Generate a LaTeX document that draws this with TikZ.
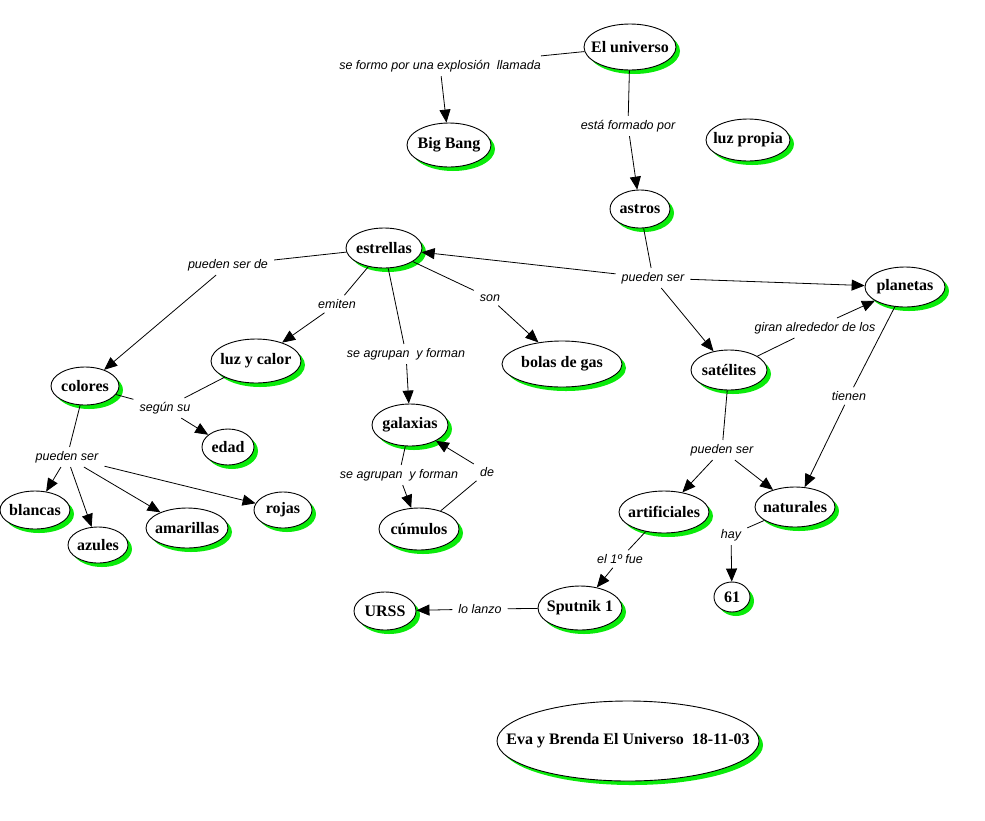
\documentclass[tikz,border=0pt]{standalone}
\usepackage{fontspec}
\setmainfont{Liberation Serif}
\newfontfamily\labfont{Liberation Sans}
\usetikzlibrary{shapes.geometric,arrows.meta,shadows}
\definecolor{shgreen}{RGB}{10,235,10}
\newcommand{\ct}[1]{\makebox[0pt]{#1}}
\tikzset{
 concept/.style={ellipse, draw=black, line width=0.9pt, fill=white, inner sep=0pt,
   font=\bfseries\fontsize{16}{18}\selectfont,
   general shadow={shadow xshift=4pt, shadow yshift=-4pt, fill=shgreen}},
 lab/.style={font=\labfont\itshape\fontsize{12.5}{14}\selectfont, inner xsep=6pt, inner ysep=4pt},
 link/.style={line width=0.8pt},
 arr/.style={line width=0.8pt, -{Triangle[length=13pt,width=11pt]}},
}
\begin{document}
\begin{tikzpicture}[x=1pt,y=-1pt]
\fill[white] (0,0) rectangle (985,820);
\useasboundingbox (0,0) rectangle (985,820);
% concepts
\node[concept, minimum width=92pt, minimum height=46pt] (univ) at (630,47) {\ct{El universo}};
\node[concept, minimum width=84pt, minimum height=44pt] (big) at (449,145) {\ct{Big Bang}};
\node[concept, minimum width=84pt, minimum height=42pt] (luzp) at (748,140) {\ct{luz propia}};
\node[concept, minimum width=60pt, minimum height=38pt] (astros) at (640,209) {\ct{astros}};
\node[concept, minimum width=76pt, minimum height=40pt] (estr) at (384,248) {\ct{estrellas}};
\node[concept, minimum width=80pt, minimum height=40pt] (plan) at (905,287) {\ct{planetas}};
\node[concept, minimum width=90pt, minimum height=44pt] (luzc) at (256,361) {\ct{luz y calor}};
\node[concept, minimum width=120pt, minimum height=46pt] (bolas) at (562,364) {\ct{bolas de gas}};
\node[concept, minimum width=76pt, minimum height=40pt] (sat) at (729,370) {\ct{satélites}};
\node[concept, minimum width=68pt, minimum height=38pt] (col) at (85,386) {\ct{colores}};
\node[concept, minimum width=52pt, minimum height=36pt] (edad) at (228,447) {\ct{edad}};
\node[concept, minimum width=76pt, minimum height=42pt] (gal) at (410,425) {\ct{galaxias}};
\node[concept, minimum width=70pt, minimum height=38pt] (blan) at (35,510) {\ct{blancas}};
\node[concept, minimum width=60pt, minimum height=36pt] (azu) at (98,545) {\ct{azules}};
\node[concept, minimum width=82pt, minimum height=40pt] (ama) at (187,528) {\ct{amarillas}};
\node[concept, minimum width=58pt, minimum height=36pt] (roj) at (283,510) {\ct{rojas}};
\node[concept, minimum width=80pt, minimum height=42pt] (cum) at (419,529) {\ct{cúmulos}};
\node[concept, minimum width=90pt, minimum height=42pt] (art) at (664,512) {\ct{artificiales}};
\node[concept, minimum width=80pt, minimum height=40pt] (nat) at (795,507) {\ct{naturales}};
\node[concept, minimum width=36pt, minimum height=30pt] (n61) at (732,597) {\ct{61}};
\node[concept, minimum width=84pt, minimum height=44pt] (sput) at (580,608) {\ct{Sputnik 1}};
\node[concept, minimum width=62pt, minimum height=38pt] (urss) at (385,611) {\ct{URSS}};
\node[concept, minimum width=262pt, minimum height=80pt] (eva) at (628,741) {\ct{Eva y Brenda El Universo\ \ 18-11-03}};
% labels
\node[lab] (l1) at (440,66) {se formo por una explosión\ \ llamada};
\node[lab] (l2) at (628,126) {está formado por};
\node[lab] (l3) at (228,265) {pueden ser de};
\node[lab] (l4) at (337,304) {emiten};
\node[lab] (l5) at (490,298) {son};
\node[lab] (l6) at (406,354) {se agrupan\ \ y forman};
\node[lab] (l7) at (653,278) {pueden ser};
\node[lab] (l8) at (815,328) {giran alrededor de los};
\node[lab] (l9) at (849,396) {tienen};
\node[lab] (l10) at (165,408) {según su};
\node[lab] (l11) at (67,457) {pueden ser};
\node[lab] (l12) at (399,475) {se agrupan\ \ y forman};
\node[lab] (l13) at (487,472) {de};
\node[lab] (l14) at (722,450) {pueden ser};
\node[lab] (l15) at (731,535) {hay};
\node[lab] (l16) at (620,559) {el 1º fue};
\node[lab] (l17) at (480,609) {lo lanzo};
% connectors
\draw[link] (univ) -- (l1); \draw[arr] (l1) -- (big);
\draw[link] (univ) -- (l2); \draw[arr] (l2) -- (astros);
\draw[link] (astros) -- (l7);
\draw[arr] (l7) -- (estr); \draw[arr] (l7) -- (plan); \draw[arr] (l7) -- (sat);
\draw[link] (estr) -- (l3); \draw[arr] (l3) -- (col);
\draw[link] (estr) -- (l4); \draw[arr] (l4) -- (luzc);
\draw[link] (estr) -- (l5); \draw[arr] (l5) -- (bolas);
\draw[link] (estr) -- (l6); \draw[arr] (l6) -- (gal);
\draw[link] (sat) -- (l8); \draw[arr] (l8) -- (plan);
\draw[link] (plan) -- (l9); \draw[arr] (l9) -- (nat);
\draw[link] (luzc) -- (l10); \draw[link] (col) -- (l10); \draw[arr] (l10) -- (edad);
\draw[link] (col) -- (l11);
\draw[arr] (l11) -- (blan); \draw[arr] (l11) -- (azu); \draw[arr] (l11) -- (ama); \draw[arr] (l11) -- (roj);
\draw[link] (gal) -- (l12); \draw[arr] (l12) -- (cum);
\draw[link] (cum) -- (l13); \draw[arr] (l13) -- (gal);
\draw[link] (sat) -- (l14); \draw[arr] (l14) -- (art); \draw[arr] (l14) -- (nat);
\draw[link] (nat) -- (l15); \draw[arr] (l15) -- (n61);
\draw[link] (art) -- (l16); \draw[arr] (l16) -- (sput);
\draw[link] (sput) -- (l17); \draw[arr] (l17) -- (urss);
\end{tikzpicture}
\end{document}
